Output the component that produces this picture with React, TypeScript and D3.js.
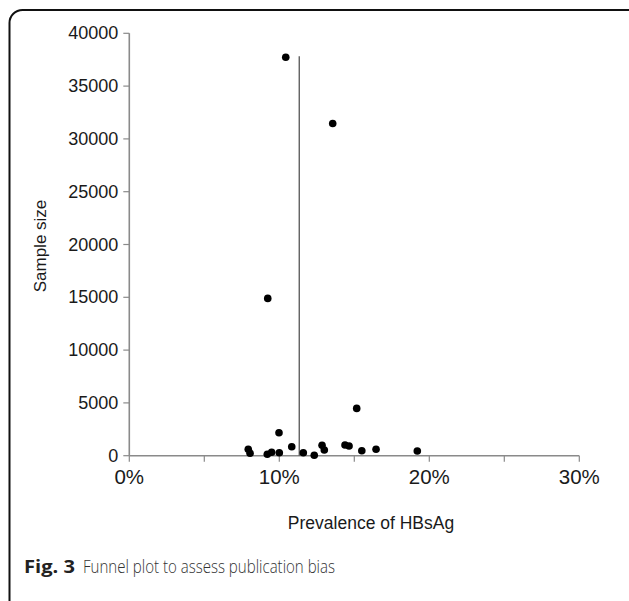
import React from "react";
import * as d3 from "d3";

// Prevalence of HBsAg (%) and sample size per study
const prevalence = [
  10.43, 13.56, 9.23, 15.16, 9.98,
  7.93, 8.05, 9.2, 9.49, 10.0, 10.83, 11.6, 12.33, 12.85, 13.0,
  14.38, 14.65, 15.5, 16.45, 19.2,
];
const sampleSize = [
  37727, 31453, 14894, 4480, 2176,
  605, 227, 132, 320, 284, 851, 284, 40, 980, 540,
  1010, 920, 473, 605, 445,
];
const pooledPrevalence = 11.33;
const pooledLineTop = 37820;
const xTicks = [0, 5, 10, 15, 20, 25, 30];
const xLabeled = [0, 10, 20, 30];
const yTicks = [0, 5000, 10000, 15000, 20000, 25000, 30000, 35000, 40000];

const W = 629;
const H = 601;

export default function App() {
  const x = d3.scaleLinear().domain([0, 30]).range([129.3, 579.3]);
  const y = d3.scaleLinear().domain([0, 40000]).range([455.7, 33.3]);
  const axisColor = "#8a8a8a";
  const font = "'Liberation Sans', Arial, Helvetica, sans-serif";
  const capFont = "'Open Sans', 'Noto Sans', sans-serif";

  return (
    <svg
      width={W}
      height={H}
      style={{ position: "absolute", left: 0, top: 0, background: "#fff" }}
    >
      {/* frame */}
      <rect x={9.5} y={10} width={640} height={620} rx={13} ry={13} fill="none" stroke="#111" strokeWidth={2} />

      {/* y axis */}
      <line x1={x(0)} x2={x(0)} y1={y(40000)} y2={y(0)} stroke={axisColor} strokeWidth={1.6} />
      {yTicks.map((t) => (
        <g key={"yt" + t}>
          <line x1={x(0) - 6} x2={x(0)} y1={y(t)} y2={y(t)} stroke={axisColor} strokeWidth={1.2} />
          <text
            x={x(0) - 11}
            y={y(t)}
            textAnchor="end"
            dominantBaseline="central"
            fontFamily={font}
            fontSize={18}
            fill="#1a1a1a"
          >
            {t}
          </text>
        </g>
      ))}

      {/* x axis */}
      <line x1={x(0)} x2={x(30)} y1={y(0)} y2={y(0)} stroke={axisColor} strokeWidth={1.6} />
      {xTicks.map((t) => (
        <line key={"xt" + t} x1={x(t)} x2={x(t)} y1={y(0)} y2={y(0) + 6} stroke={axisColor} strokeWidth={1.2} />
      ))}
      {xLabeled.map((t) => (
        <text
          key={"xl" + t}
          x={x(t)}
          y={484}
          textAnchor="middle"
          fontFamily={font}
          fontSize={20.5}
          fill="#1a1a1a"
        >
          {t + "%"}
        </text>
      ))}

      {/* pooled prevalence line */}
      <line
        x1={x(pooledPrevalence)}
        x2={x(pooledPrevalence)}
        y1={y(pooledLineTop)}
        y2={y(0)}
        stroke="#555"
        strokeWidth={1.3}
      />

      {/* points */}
      {prevalence.map((p, i) => (
        <circle key={"pt" + i} cx={x(p)} cy={y(sampleSize[i])} r={3.8} fill="#000" />
      ))}

      {/* axis titles */}
      <text
        transform={`translate(46, 246) rotate(-90)`}
        textAnchor="middle"
        fontFamily={font}
        fontSize={17}
        fill="#1a1a1a"
      >
        Sample size
      </text>
      <text x={371} y={529} textAnchor="middle" fontFamily={font} fontSize={17.5} fill="#1a1a1a">
        Prevalence of HBsAg
      </text>

      {/* caption */}
      <text x={24} y={573} fontFamily={capFont} fontSize={18.5} fill="#222" fontWeight="bold" textLength={51} lengthAdjust="spacingAndGlyphs">
        Fig. 3
      </text>
      <text x={83} y={573} fontFamily={capFont} fontSize={17.5} fill="#333" fontWeight={300} textLength={252} lengthAdjust="spacingAndGlyphs">
        Funnel plot to assess publication bias
      </text>
    </svg>
  );
}
